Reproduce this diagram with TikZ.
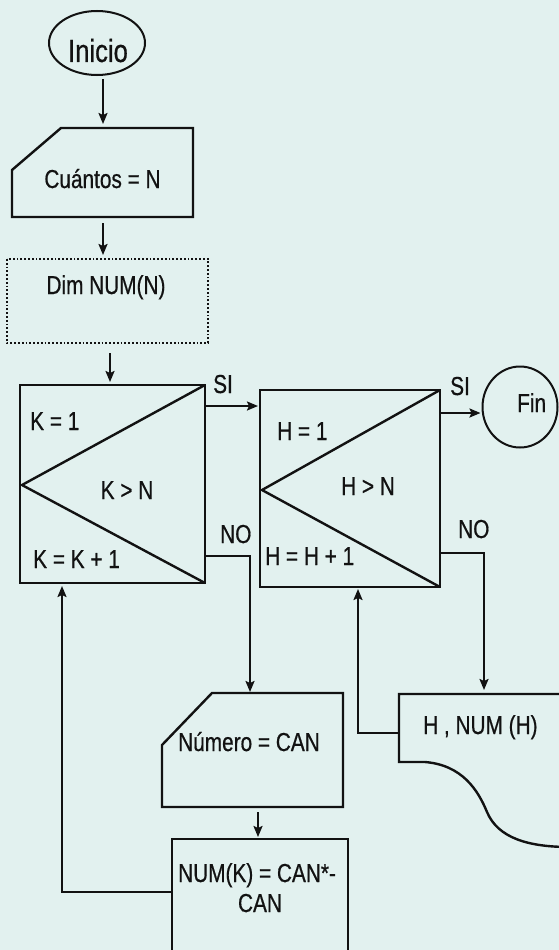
\documentclass[tikz,border=0pt]{standalone}
\usepackage{fontspec}
\setmainfont{Liberation Sans}[FakeStretch=0.8,FakeBold=0.6]
\usetikzlibrary{arrows.meta,calc,shapes.geometric}
\definecolor{bg}{RGB}{226,241,239}
\definecolor{ink}{RGB}{18,18,18}
\begin{document}
\begin{tikzpicture}[x=1pt,y=-1pt,
  txt/.style={font=\fontsize{26}{28}\selectfont, inner sep=0pt, text=ink},
  shp/.style={draw=ink, line width=2.4pt, line join=miter},
  arr/.style={draw=ink, line width=2pt, -{Stealth[length=11pt,width=9pt,inset=2pt]}},
  frm/.style={inner sep=0pt, outer sep=0pt, draw=none, minimum width=#1},
  oval/.style={ellipse, draw=ink, line width=2pt, inner sep=0pt}
]
\useasboundingbox (0,0) rectangle (559,950);
\fill[bg] (0,0) rectangle (559,950);
\clip (0,0) rectangle (559,950);

% named frames of the shapes
\node[oval, minimum width=96pt, minimum height=64pt] (inicio) at (97,43) {};
\node[oval, minimum width=75pt, minimum height=81pt] (fin) at (520,407) {};
\node[frm=181pt, minimum height=89pt] (cuantos) at (102.5,172.5) {};
\node[frm=201pt, minimum height=84pt] (dim) at (107.5,301) {};
\node[frm=185pt, minimum height=198pt] (kbox) at (112.5,484) {};
\node[frm=180pt, minimum height=197pt] (hbox) at (350,488.5) {};
\node[frm=181pt, minimum height=114pt] (numero) at (252.5,750) {};
\node[frm=176pt, minimum height=121pt] (numk) at (260,899.5) {};
\node[frm=171pt, minimum height=153pt] (disp) at (484.5,770.5) {};

% shapes
\draw[shp] (12,170) -- (61,128) -- (193,128) -- (193,217) -- (12,217) -- cycle;
\draw[draw=ink, line width=1.8pt, dotted] (dim.north west) rectangle (dim.south east);
\draw[shp] (kbox.north west) rectangle (kbox.south east);
\draw[shp] (kbox.north east) -- (22,485) -- (kbox.south east);
\draw[shp] (hbox.north west) rectangle (hbox.south east);
\draw[shp] (hbox.north east) -- (262,490) -- (hbox.south east);
\draw[shp] (162,745) -- (212,693) -- (343,693) -- (343,807) -- (162,807) -- cycle;
\draw[shp] (numk.north west) rectangle (numk.south east);
\draw[shp] (570,694) -- (disp.north west) -- (399,762) -- (425,762)
   .. controls (462,765) and (478,790) .. (487,812)
   .. controls (498,838) and (528,847) .. (570,847);

% texts
\node[txt, font=\fontsize{32}{34}\selectfont, anchor=base] at (98,62) {Inicio};
\node[txt, anchor=base] at (102.5,188) {Cuántos = N};
\node[txt, anchor=base] at (106,294) {Dim NUM(N)};
\node[txt, anchor=base west] at (30,430) {K = 1};
\node[txt, anchor=base] at (127,499) {K > N};
\node[txt, anchor=base west] at (33,568) {K = K + 1};
\node[txt, anchor=base west] (si1) at (213,393) {SI};
\node[txt, anchor=base west] (no1) at (220,543) {NO};
\node[txt, anchor=base west] at (277,440) {H = 1};
\node[txt, anchor=base] at (368,495) {H > N};
\node[txt, anchor=base west] at (265,565) {H = H + 1};
\node[txt, anchor=base west] (si2) at (450,395) {SI};
\node[txt, anchor=base west] (no2) at (458,538) {NO};
\node[txt, anchor=base west] at (517,412) {Fin};
\node[txt, anchor=base west] at (178,751) {Número = CAN};
\node[txt, anchor=base west] at (178,882) {NUM(K) = CAN*-};
\node[txt, anchor=base] at (260,912) {CAN};
\node[txt, anchor=base west] at (423,734) {H , NUM (H)};

% connectors
\coordinate (x1) at (103,0);
\coordinate (x2) at (110,0);
\coordinate (x3) at (250,0);
\coordinate (x4) at (484,0);
\coordinate (x5) at (358,0);
\coordinate (x6) at (258,0);
\coordinate (x7) at (62,0);
\coordinate (y1) at (0,406);
\coordinate (y2) at (0,413);
\coordinate (y3) at (0,556);
\coordinate (y4) at (0,553);
\coordinate (y5) at (0,733);
\coordinate (y6) at (0,892);

\draw[arr, shorten <=3pt, shorten >=4pt] (inicio.south -| x1) -- (cuantos.north -| x1);
\draw[arr, shorten <=6pt, shorten >=4pt] (cuantos.south -| x1) -- (dim.north -| x1);
\draw[arr, shorten <=10pt, shorten >=3pt] (dim.south -| x2) -- (kbox.north -| x2);
\draw[arr, shorten >=2pt] (kbox.east |- y1) -- (hbox.west |- y1);
\draw[arr, shorten >=1pt] (hbox.east |- y2) -- (fin.west |- y2);
\draw[arr, shorten >=1pt] (kbox.east |- y3) -- (x3 |- y3) -- (numero.north -| x3);
\draw[arr, shorten >=4pt] (hbox.east |- y4) -- (x4 |- y4) -- (disp.north -| x4);
\draw[arr, shorten >=2pt] (disp.west |- y5) -- (x5 |- y5) -- (hbox.south -| x5);
\draw[arr, shorten <=5pt, shorten >=2pt] (numero.south -| x6) -- (numk.north -| x6);
\draw[arr, shorten >=3pt] (numk.west |- y6) -- (x7 |- y6) -- (kbox.south -| x7);
\end{tikzpicture}
\end{document}
